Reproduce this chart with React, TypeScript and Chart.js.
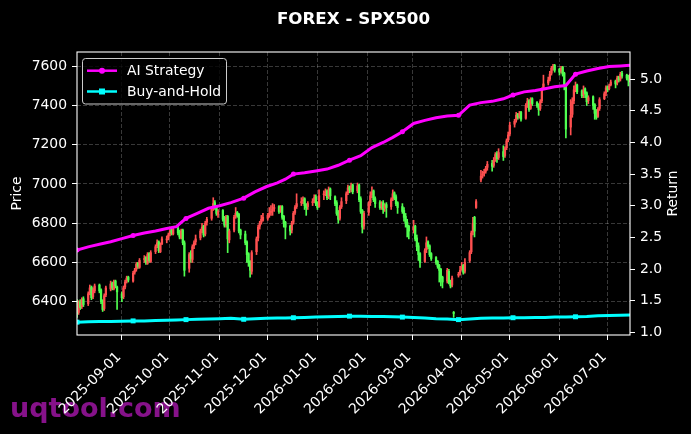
import React, { useEffect, useRef } from 'react';
import { Chart, registerables } from 'chart.js';
Chart.register(...registerables);

const startDate = Date.UTC(2025, 7, 4);
const DAY_MS = 86400000;

const openPrices = [
  6400,6345,6400,6375,6415, 6390,6445,6475,6425,6455,
  6485,6460,6405,6365,6435, 6465,6495,6465,6505,6475,
  6440,6425,6475,6505,6525, 6505,6550,6565,6595,6575,
  6615,6625,6595,6645,6605, 6655,6685,6705,6655,6695,
  6715,6725,6745,6765,6745, 6775,6755,6725,6765,6700,
  6570,6645,6615,6685,6705, 6725,6765,6785,6745,6805,
  6825,6875,6905,6885,6845, 6865,6825,6795,6835,6715,
  6765,6835,6855,6845,6765, 6745,6705,6645,6605,6555,
  6655,6725,6785,6805,6815, 6825,6845,6855,6865,6875,
  6885,6865,6885,6835,6805, 6785,6765,6805,6855,6885,
  6905,6915,6925,6895,6885, 6905,6915,6935,6905,6885,
  6945,6955,6965,6935,6975, 6935,6905,6855,6825,6885,
  6915,6955,6985,6975,6995, 6965,6995,6925,6865,6785,
  6855,6905,6945,6965,6925, 6905,6885,6905,6875,6895,
  6885,6925,6955,6935,6905, 6885,6865,6835,6805,6785,
  6765,6785,6725,6685,6645, 6605,6665,6705,6685,6645,
  6625,6605,6585,6565,6525, 6505,6555,6505,6485,6345,
  6535,6545,6565,6585,6555, 6610,6655,6755,6830,6880,
  7020,7045,7055,7065,7085, 7105,7095,7125,7155,7135,
  7165,7145,7185,7225,7255, 7305,7325,7355,7345,7365,
  7335,7405,7425,7385,7435, 7415,7405,7385,7425,7485,
  7515,7535,7565,7595,7605, 7585,7575,7595,7565,7505,
  7290,7355,7425,7485,7505, 7475,7455,7485,7465,7425,
  7445,7405,7365,7345,7385, 7435,7465,7495,7485,7505,
  7525,7515,7545,7535,7565, 7555,7545,7535,
];

const highPrices = [
  6410,6405,6410,6420,6425, 6450,6485,6480,6470,6490,
  6490,6465,6410,6440,6480, 6505,6500,6510,6510,6480,
  6450,6480,6510,6530,6530, 6555,6570,6600,6600,6620,
  6635,6630,6650,6650,6660, 6690,6715,6710,6700,6730,
  6735,6750,6770,6770,6780, 6785,6765,6770,6770,6710,
  6650,6660,6690,6710,6740, 6770,6800,6790,6810,6830,
  6880,6930,6915,6890,6870, 6870,6835,6840,6840,6770,
  6840,6880,6860,6850,6770, 6760,6710,6650,6610,6660,
  6730,6790,6810,6840,6850, 6850,6880,6890,6900,6895,
  6890,6890,6890,6840,6810, 6790,6810,6860,6890,6950,
  6930,6935,6930,6900,6910, 6925,6945,6945,6910,6970,
  6965,6975,6970,6985,6980, 6940,6915,6865,6890,6930,
  6960,6995,6990,7005,7000, 7005,7000,6935,6870,6860,
  6910,6960,6985,6970,6935, 6915,6910,6915,6900,6905,
  6930,6970,6960,6945,6910, 6900,6880,6850,6820,6790,
  6815,6790,6740,6700,6650, 6670,6730,6710,6690,6650,
  6630,6610,6590,6570,6530, 6570,6565,6510,6530,6350,
  6550,6580,6600,6590,6620, 6660,6760,6830,6835,6920,
  7070,7065,7075,7090,7115, 7120,7135,7160,7165,7180,
  7195,7190,7230,7265,7315, 7330,7365,7360,7370,7370,
  7410,7437,7430,7440,7440, 7420,7410,7430,7490,7555,
  7545,7575,7600,7610,7610, 7590,7600,7600,7570,7510,
  7430,7440,7500,7520,7510, 7480,7500,7490,7470,7450,
  7450,7410,7380,7390,7440, 7470,7500,7500,7510,7530,
  7530,7550,7550,7570,7575, 7560,7555,7560,
];

const lowPrices = [
  6320,6335,6360,6365,6375, 6380,6435,6410,6415,6445,
  6445,6390,6350,6355,6425, 6455,6460,6460,6470,6360,
  6400,6415,6465,6495,6500, 6500,6540,6555,6570,6570,
  6600,6590,6590,6600,6600, 6645,6675,6650,6650,6690,
  6700,6715,6735,6740,6740, 6740,6720,6720,6690,6530,
  6550,6600,6600,6670,6690, 6715,6750,6730,6735,6790,
  6815,6865,6870,6840,6830, 6810,6780,6780,6650,6700,
  6755,6825,6830,6750,6720, 6690,6600,6580,6525,6540,
  6640,6710,6770,6795,6810, 6815,6830,6840,6840,6860,
  6850,6855,6820,6780,6720, 6740,6750,6795,6845,6875,
  6890,6900,6870,6840,6870, 6890,6905,6890,6870,6880,
  6920,6940,6920,6925,6920, 6890,6840,6800,6815,6875,
  6900,6945,6955,6960,6950, 6955,6910,6850,6750,6770,
  6840,6890,6930,6910,6880, 6870,6870,6850,6860,6830,
  6870,6915,6920,6890,6850, 6850,6810,6780,6730,6720,
  6750,6710,6660,6610,6575, 6600,6650,6670,6630,6610,
  6590,6570,6500,6480,6470, 6495,6490,6470,6475,6320,
  6525,6535,6560,6540,6545, 6600,6645,6740,6730,6875,
  7010,7030,7040,7055,7070, 7065,7085,7115,7110,7125,
  7120,7135,7175,7215,7245, 7290,7315,7330,7335,7320,
  7330,7390,7370,7380,7400, 7390,7350,7375,7415,7480,
  7505,7525,7555,7580,7570, 7555,7565,7550,7480,7235,
  7250,7340,7410,7470,7460, 7440,7440,7440,7400,7410,
  7380,7330,7330,7340,7375, 7430,7450,7470,7480,7500,
  7490,7505,7520,7525,7540, 7530,7500,7520,
];

const closePrices = [
  6340,6395,6370,6410,6385, 6440,6470,6420,6460,6480,
  6455,6400,6360,6430,6470, 6490,6470,6500,6480,6450,
  6420,6470,6500,6520,6510, 6545,6560,6590,6580,6610,
  6620,6600,6640,6610,6650, 6680,6700,6660,6690,6720,
  6720,6740,6760,6750,6770, 6750,6730,6760,6700,6560,
  6640,6620,6680,6700,6720, 6760,6780,6740,6800,6820,
  6870,6900,6880,6850,6860, 6820,6790,6830,6720,6760,
  6830,6850,6840,6760,6740, 6700,6640,6600,6560,6650,
  6720,6780,6800,6820,6830, 6840,6850,6860,6870,6880,
  6860,6880,6830,6800,6780, 6760,6800,6850,6880,6900,
  6910,6920,6890,6880,6900, 6910,6930,6900,6880,6940,
  6950,6960,6930,6970,6940, 6900,6850,6820,6880,6910,
  6950,6980,6970,6990,6960, 6990,6920,6860,6780,6850,
  6900,6940,6960,6920,6900, 6880,6900,6870,6890,6880,
  6920,6950,6930,6900,6880, 6860,6830,6800,6780,6760,
  6780,6720,6680,6640,6600, 6660,6700,6680,6640,6620,
  6600,6580,6560,6520,6500, 6560,6500,6480,6520,6340,
  6540,6560,6580,6550,6600, 6650,6750,6800,6760,6910,
  7040,7050,7060,7080,7100, 7090,7120,7150,7130,7160,
  7140,7180,7220,7250,7300, 7320,7350,7340,7360,7330,
  7400,7420,7380,7430,7410, 7400,7380,7420,7480,7510,
  7530,7560,7590,7600,7580, 7570,7590,7560,7500,7280,
  7350,7420,7480,7500,7470, 7450,7480,7460,7420,7440,
  7400,7360,7340,7380,7430, 7460,7490,7480,7500,7520,
  7510,7540,7530,7560,7550, 7540,7530,7550,
];

// calendar day offsets (from 2025-08-04) of the strategy curves
const lineDays = [
  0,7,14,21,28,35,42,49,56, 62,68,75,82,89,96, 104,111,118,125,130,135,
  142,149,156,163,170,177,184,191,197,203, 210,217,224,231,238,245,252,259,266,272,
  279,286,292,298,305,311,318,325,332,339,345,
];
const aiStrategy = [
  2.30,2.35,2.39,2.43,2.48,2.53,2.57,2.60,2.64, 2.67,2.80,2.88,2.96,3.00,3.05,
  3.12,3.22,3.30,3.36,3.42,3.50, 3.52,3.55,3.58,3.64,3.72,3.79,3.92,4.00,4.08,4.17,
  4.30,4.35,4.39,4.42,4.43,4.59,4.63,4.65,4.69,4.75,
  4.80,4.82,4.85,4.88,4.90,5.08,5.13,5.17,5.20,5.21,5.22,
];
const buyAndHold = [
  1.16,1.165,1.17,1.17,1.175,1.18,1.18,1.185,1.19, 1.195,1.20,1.205,1.21,1.215,1.22,
  1.205,1.215,1.22,1.225,1.225,1.23, 1.235,1.24,1.245,1.25,1.255,1.255,1.25,1.25,1.245,1.24,
  1.235,1.225,1.215,1.21,1.20,1.21,1.22,1.225,1.225,1.23,
  1.23,1.235,1.235,1.24,1.24,1.245,1.25,1.26,1.265,1.27,1.275,
];
const markerDays = [0, 35, 68, 104, 135, 170, 203, 238, 272, 311];

const dateTickLabels = [
  '2025-09-01','2025-10-01','2025-11-01','2025-12-01','2026-01-01','2026-02-01',
  '2026-03-01','2026-04-01','2026-05-01','2026-06-01','2026-07-01',
];
const priceTicks = [6400, 6600, 6800, 7000, 7200, 7400, 7600];
const returnTicks = [1.0, 1.5, 2.0, 2.5, 3.0, 3.5, 4.0, 4.5, 5.0];

const FONT = '"DejaVu Sans", sans-serif';
const UP = '#ff5050';
const DOWN = '#50ff50';
const MAGENTA = '#ff00ff';
const CYAN = '#00ffff';

function dayOf(s: string) {
  const [y, m, d] = s.split('-').map(Number);
  return Math.round((Date.UTC(y, m - 1, d) - startDate) / DAY_MS);
}

export default function App() {
  const ref = useRef<HTMLCanvasElement | null>(null);
  useEffect(() => {
    if (!ref.current) return;
    const tradingDays: number[] = [];
    for (let d = 0; tradingDays.length < closePrices.length; d++) {
      if (d % 7 < 5) tradingDays.push(d);
    }
    const colors = closePrices.map((c, i) => (c >= openPrices[i] ? UP : DOWN));
    const tickDays = dateTickLabels.map(dayOf);
    const labelMap: Record<number, string> = {};
    tickDays.forEach((d, i) => (labelMap[d] = dateTickLabels[i]));
    const markerSet = new Set(markerDays);

    const decor = {
      id: 'decor',
      beforeDraw(chart: any) {
        const { ctx, width, height } = chart;
        ctx.save();
        ctx.fillStyle = '#000';
        ctx.fillRect(0, 0, width, height);
        ctx.font = `bold 27px ${FONT}`;
        ctx.fillStyle = '#86128a';
        ctx.textBaseline = 'alphabetic';
        ctx.textAlign = 'left';
        ctx.fillText('uqtool.com', 10, 417);
        ctx.restore();
      },
      afterDraw(chart: any) {
        const { ctx, chartArea: a } = chart;
        ctx.save();
        ctx.strokeStyle = '#fff';
        ctx.lineWidth = 1.1;
        ctx.strokeRect(a.left, a.top, a.right - a.left, a.bottom - a.top);
        // title
        ctx.fillStyle = '#fff';
        ctx.font = `bold 16.7px ${FONT}`;
        ctx.textAlign = 'center';
        ctx.textBaseline = 'alphabetic';
        ctx.fillText('FOREX - SPX500', (a.left + a.right) / 2, 24);
        // axis titles
        const cy = (a.top + a.bottom) / 2;
        ctx.font = `13.9px ${FONT}`;
        ctx.textBaseline = 'middle';
        ctx.save();
        ctx.translate(17.5, cy);
        ctx.rotate(-Math.PI / 2);
        ctx.fillText('Price', 0, 0);
        ctx.restore();
        ctx.save();
        ctx.translate(673.5, cy);
        ctx.rotate(-Math.PI / 2);
        ctx.fillText('Return', 0, 0);
        ctx.restore();
        // legend
        const bx = 82.5, by = 58.5, bw = 144, bh = 45.5, r = 3;
        ctx.beginPath();
        ctx.moveTo(bx + r, by);
        ctx.arcTo(bx + bw, by, bx + bw, by + bh, r);
        ctx.arcTo(bx + bw, by + bh, bx, by + bh, r);
        ctx.arcTo(bx, by + bh, bx, by, r);
        ctx.arcTo(bx, by, bx + bw, by, r);
        ctx.closePath();
        ctx.fillStyle = 'rgba(0,0,0,0.8)';
        ctx.fill();
        ctx.strokeStyle = '#cccccc';
        ctx.lineWidth = 1;
        ctx.stroke();
        const items = [
          { label: 'AI Strategy', color: MAGENTA, y: 70.7, square: false },
          { label: 'Buy-and-Hold', color: CYAN, y: 91.5, square: true },
        ];
        items.forEach((it) => {
          ctx.strokeStyle = it.color;
          ctx.lineWidth = 2.5;
          ctx.beginPath();
          ctx.moveTo(87, it.y);
          ctx.lineTo(117, it.y);
          ctx.stroke();
          ctx.fillStyle = it.color;
          if (it.square) {
            ctx.fillRect(102 - 3, it.y - 3, 6, 6);
          } else {
            ctx.beginPath();
            ctx.arc(102, it.y, 3, 0, Math.PI * 2);
            ctx.fill();
          }
          ctx.fillStyle = '#fff';
          ctx.font = `13.9px ${FONT}`;
          ctx.textAlign = 'left';
          ctx.textBaseline = 'middle';
          ctx.fillText(it.label, 127, it.y + 0.5);
        });
        ctx.restore();
      },
    };

    const gridColor = 'rgba(255,255,255,0.28)';
    const chart = new Chart(ref.current, {
      type: 'bar',
      data: {
        datasets: [
          {
            type: 'line',
            label: 'AI Strategy',
            data: lineDays.map((d, i) => ({ x: d, y: aiStrategy[i] })),
            borderColor: MAGENTA,
            backgroundColor: MAGENTA,
            borderWidth: 3,
            pointStyle: 'circle',
            pointRadius: (c: any) => (markerSet.has(lineDays[c.dataIndex]) ? 2.5 : 0),
            pointBorderWidth: 0,
            tension: 0,
            yAxisID: 'y1',
            order: 0,
          } as any,
          {
            type: 'line',
            label: 'Buy-and-Hold',
            data: lineDays.map((d, i) => ({ x: d, y: buyAndHold[i] })),
            borderColor: CYAN,
            backgroundColor: CYAN,
            borderWidth: 3,
            pointStyle: 'rect',
            pointRadius: (c: any) => (markerSet.has(lineDays[c.dataIndex]) ? 3.5 : 0),
            pointBorderWidth: 0,
            tension: 0,
            yAxisID: 'y1',
            order: 1,
          } as any,
          {
            type: 'bar',
            label: 'wick',
            data: tradingDays.map((d, i) => ({ x: d, y: [lowPrices[i], highPrices[i]] })),
            backgroundColor: colors,
            barThickness: 1,
            grouped: false,
            yAxisID: 'y',
            order: 3,
          } as any,
          {
            type: 'bar',
            label: 'body',
            data: tradingDays.map((d, i) => ({ x: d, y: [openPrices[i], closePrices[i]] })),
            backgroundColor: colors,
            barThickness: 1.6,
            grouped: false,
            yAxisID: 'y',
            order: 2,
          } as any,
        ],
      },
      options: {
        animation: false,
        responsive: false,
        devicePixelRatio: 1,
        layout: { padding: { top: 52, left: 0, right: 0, bottom: 0 } },
        plugins: { legend: { display: false }, tooltip: { enabled: false }, title: { display: false } },
        scales: {
          x: {
            type: 'linear',
            min: 0,
            max: 345,
            offset: false,
            grid: { color: gridColor, lineWidth: 0.8, tickLength: 5, tickColor: '#fff', tickWidth: 1, offset: false },
            border: { display: false, dash: [4, 2] },
            ticks: {
              color: '#fff',
              font: { family: FONT, size: 13.9 },
              minRotation: 45,
              maxRotation: 45,
              autoSkip: false,
              padding: 9,
              labelOffset: -3,
              callback: (v: any) => labelMap[Math.round(Number(v))] ?? '',
            },
            afterBuildTicks: (s: any) => {
              s.ticks = tickDays.map((v) => ({ value: v }));
            },
            afterFit: (s: any) => {
              s.height = 99;
            },
          },
          y: {
            type: 'linear',
            position: 'left',
            min: 6230,
            max: 7673,
            grid: { color: gridColor, lineWidth: 0.8, tickLength: 5, tickColor: '#fff', tickWidth: 1 },
            border: { display: false, dash: [4, 2] },
            ticks: {
              color: '#fff',
              font: { family: FONT, size: 13.9 },
              padding: 5,
              callback: (v: any) => String(v),
            },
            afterBuildTicks: (s: any) => {
              s.ticks = priceTicks.map((v) => ({ value: v }));
            },
            afterFit: (s: any) => {
              s.width = 77;
            },
          },
          y1: {
            type: 'linear',
            position: 'right',
            min: 0.957,
            max: 5.43,
            grid: { drawOnChartArea: false, tickLength: 5, tickColor: '#fff', tickWidth: 1 },
            border: { display: false },
            ticks: {
              color: '#fff',
              font: { family: FONT, size: 13.9 },
              padding: 5,
              callback: (v: any) => Number(v).toFixed(1),
            },
            afterBuildTicks: (s: any) => {
              s.ticks = returnTicks.map((v) => ({ value: v }));
            },
            afterFit: (s: any) => {
              s.width = 61;
            },
          },
        },
      } as any,
      plugins: [decor],
    });
    return () => chart.destroy();
  }, []);

  return (
    <div style={{ position: 'fixed', left: 0, top: 0, width: 691, height: 434, background: '#000' }}>
      <canvas ref={ref} width={691} height={434} style={{ width: 691, height: 434, display: 'block' }} />
    </div>
  );
}
